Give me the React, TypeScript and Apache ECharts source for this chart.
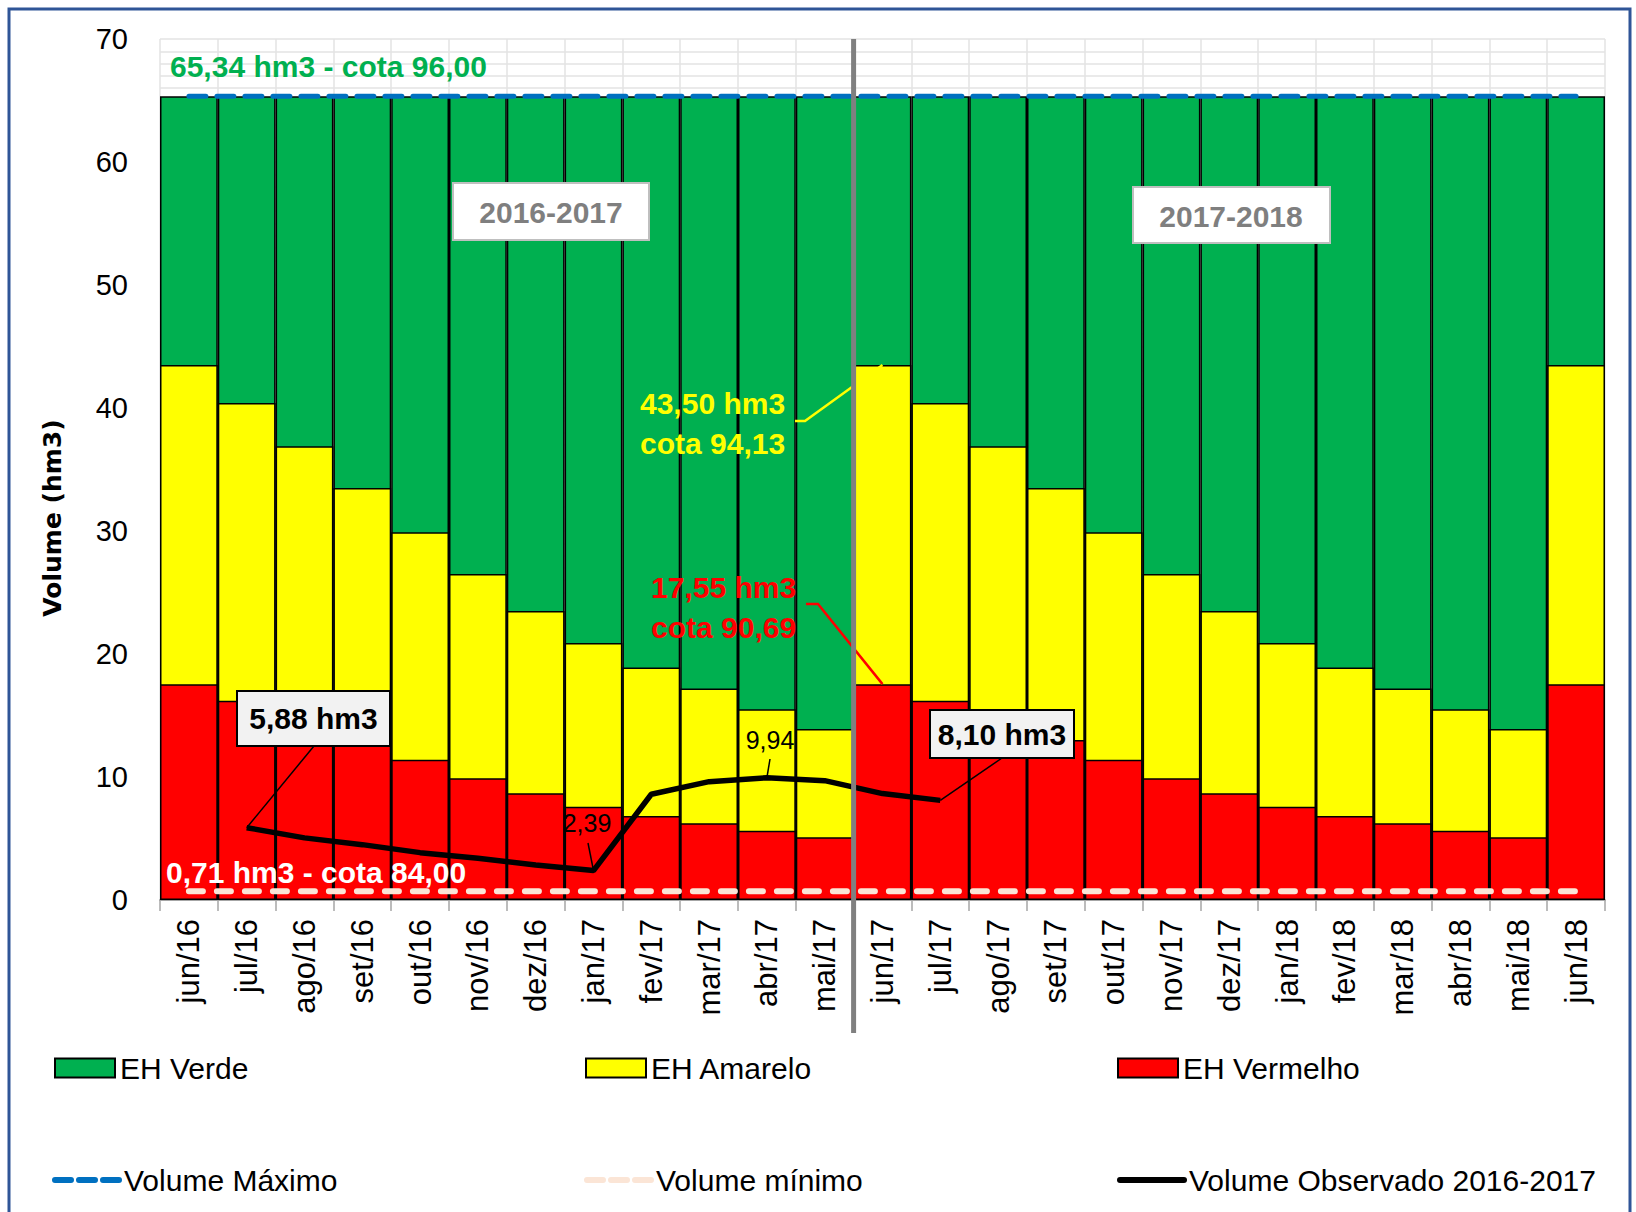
import React, { useEffect, useRef } from "react";
import * as echarts from "echarts";

const categories = [
  "jun/16", "jul/16", "ago/16", "set/16", "out/16", "nov/16", "dez/16", "jan/17",
  "fev/17", "mar/17", "abr/17", "mai/17", "jun/17", "jul/17", "ago/17", "set/17",
  "out/17", "nov/17", "dez/17", "jan/18", "fev/18", "mar/18", "abr/18", "mai/18", "jun/18",
];

// Upper limit of each band (hm3)
const verdeTop = [
  65.34, 65.34, 65.34, 65.34, 65.34, 65.34, 65.34, 65.34, 65.34, 65.34, 65.34, 65.34,
  65.34, 65.34, 65.34, 65.34, 65.34, 65.34, 65.34, 65.34, 65.34, 65.34, 65.34, 65.34, 65.34,
];
const amareloTop = [
  43.5, 40.4, 36.9, 33.5, 29.9, 26.5, 23.5, 20.9, 18.9, 17.2, 15.5, 13.9,
  43.5, 40.4, 36.9, 33.5, 29.9, 26.5, 23.5, 20.9, 18.9, 17.2, 15.5, 13.9, 43.5,
];
const vermelhoTop = [
  17.55, 16.2, 14.6, 13.0, 11.4, 9.9, 8.67, 7.58, 6.83, 6.23, 5.64, 5.1,
  17.55, 16.2, 14.6, 13.0, 11.4, 9.9, 8.67, 7.58, 6.83, 6.23, 5.64, 5.1, 17.55,
];
const volumeMaximo = [
  65.34, 65.34, 65.34, 65.34, 65.34, 65.34, 65.34, 65.34, 65.34, 65.34, 65.34, 65.34,
  65.34, 65.34, 65.34, 65.34, 65.34, 65.34, 65.34, 65.34, 65.34, 65.34, 65.34, 65.34, 65.34,
];
const volumeMinimo = [
  0.71, 0.71, 0.71, 0.71, 0.71, 0.71, 0.71, 0.71, 0.71, 0.71, 0.71, 0.71,
  0.71, 0.71, 0.71, 0.71, 0.71, 0.71, 0.71, 0.71, 0.71, 0.71, 0.71, 0.71, 0.71,
];
const volumeObservado = [
  null, 5.88, 5.05, 4.5, 3.85, 3.4, 2.85, 2.39, 8.6, 9.62, 9.94, 9.7,
  8.65, 8.1, null, null, null, null, null, null, null, null, null, null, null,
];

const yMin = 0;
const yMax = 70;
const yInterval = 10;

const FONT = '"Liberation Sans", Arial, sans-serif';

export default function App() {
  const ref = useRef<HTMLDivElement>(null);

  useEffect(() => {
    if (!ref.current) return;
    const chart = echarts.init(ref.current, null, { renderer: "svg" });

    const barBase = {
      type: "bar",
      barGap: "-100%",
      barCategoryGap: "0%",
      z: 2,
    };

    const legendBase = {
      orient: "horizontal",
      padding: 0,
      itemGap: 0,
      textStyle: { fontFamily: FONT, fontSize: 30, color: "#000" },
    };

    chart.setOption({
      animation: false,
      backgroundColor: "#fff",
      grid: { left: 160, right: 31, top: 39, bottom: 312, containLabel: false },
      xAxis: {
        type: "category",
        data: categories,
        boundaryGap: true,
        axisLine: { show: true, lineStyle: { color: "#A6A6A6", width: 2 } },
        axisTick: { show: true, length: 11, lineStyle: { color: "#A6A6A6", width: 1.5 } },
        axisLabel: {
          rotate: 90,
          margin: 19,
          fontFamily: FONT,
          fontSize: 31,
          color: "#000",
          interval: 0,
        },
        splitLine: { show: true, lineStyle: { color: "#E3E3E3", width: 1.5 } },
      },
      yAxis: {
        type: "value",
        min: yMin,
        max: yMax,
        interval: yInterval,
        axisLine: { show: false },
        axisTick: { show: false },
        axisLabel: { margin: 32, fontFamily: FONT, fontSize: 29, color: "#000" },
        splitLine: { show: true, lineStyle: { color: "#E3E3E3", width: 1.5 } },
        minorTick: { show: false, splitNumber: 10 },
        minorSplitLine: { show: true, lineStyle: { color: "#E3E3E3", width: 1.5 } },
      },
      legend: [
        { ...legendBase, left: 54, top: 1053, itemWidth: 60, itemHeight: 19, icon: "rect", data: ["EH Verde"] },
        { ...legendBase, left: 585, top: 1053, itemWidth: 60, itemHeight: 19, icon: "rect", data: ["EH Amarelo"] },
        { ...legendBase, left: 1117, top: 1053, itemWidth: 60, itemHeight: 19, icon: "rect", data: ["EH Vermelho"] },
        {
          ...legendBase, left: 52, top: 1165, itemWidth: 64, itemHeight: 22, data: ["Volume Máximo"],
          itemStyle: { opacity: 0 },
          lineStyle: { color: "#0070C0", width: 6, type: [16, 8], cap: "round" },
        },
        {
          ...legendBase, left: 584, top: 1165, itemWidth: 64, itemHeight: 22, data: ["Volume mínimo"],
          itemStyle: { opacity: 0 },
          lineStyle: { color: "#FBE5D6", width: 6, type: [16, 8], cap: "round" },
        },
        {
          ...legendBase, left: 1117, top: 1165, itemWidth: 64, itemHeight: 22, data: ["Volume Observado 2016-2017"],
          itemStyle: { opacity: 0 },
          lineStyle: { color: "#000", width: 6, type: "solid", cap: "round" },
        },
      ],
      series: [
        {
          ...barBase,
          name: "EH Verde",
          data: verdeTop,
          itemStyle: { color: "#00B050", borderColor: "#000", borderWidth: 1.5 },
        },
        {
          ...barBase,
          name: "EH Amarelo",
          data: amareloTop,
          itemStyle: { color: "#FFFF00", borderColor: "#000", borderWidth: 1.5 },
        },
        {
          ...barBase,
          name: "EH Vermelho",
          data: vermelhoTop,
          itemStyle: { color: "#FF0000", borderColor: "#000", borderWidth: 1.5 },
        },
        {
          type: "line",
          name: "Volume Máximo",
          data: volumeMaximo,
          symbol: "none",
          z: 5,
          itemStyle: { color: "#0070C0" },
          lineStyle: { color: "#0070C0", width: 5, type: [17, 11], cap: "round" },
        },
        {
          type: "line",
          name: "Volume mínimo",
          data: volumeMinimo,
          symbol: "none",
          z: 5,
          itemStyle: { color: "#FBE5D6" },
          lineStyle: { color: "#FBE5D6", width: 6, type: [14, 14], cap: "round" },
        },
        {
          type: "line",
          name: "Volume Observado 2016-2017",
          data: volumeObservado,
          symbol: "none",
          connectNulls: false,
          z: 6,
          itemStyle: { color: "#000" },
          lineStyle: { color: "#000", width: 5.5 },
        },
      ],
    });

    const P = (c: string, v: number) =>
      chart.convertToPixel({ gridIndex: 0 } as any, [c, v]) as unknown as number[];

    const xDiv = (P("mai/17", 0)[0] + P("jun/17", 0)[0]) / 2;
    const yTop = P("jun/16", yMax)[1];

    const txt = (
      text: string,
      x: number,
      y: number,
      fill: string,
      size: number,
      weight: string,
      align: string = "left"
    ) => ({
      type: "text",
      x,
      y,
      z: 110,
      style: {
        text,
        fill,
        fontFamily: FONT,
        fontSize: size,
        fontWeight: weight,
        textAlign: align,
        textVerticalAlign: "middle",
      },
    });

    const pYel = P("jun/17", amareloTop[12]);
    const pRed = P("jun/17", vermelhoTop[12]);
    const p588 = P("jul/16", 5.88);
    const p810 = P("jul/17", 8.1);
    const p239 = P("jan/17", 2.39);
    const p994 = P("abr/17", 9.94);

    chart.setOption({
      graphic: [
        // outer frame
        {
          type: "rect",
          z: 120,
          shape: { x: 9, y: 9, width: 1621, height: 1230 },
          style: { fill: "none", stroke: "#2F5597", lineWidth: 3 },
        },
        // y axis title
        {
          type: "text",
          x: 52,
          y: 518,
          rotation: Math.PI / 2,
          z: 110,
          style: {
            text: "Volume (hm3)",
            fill: "#000",
            fontFamily: '"DejaVu Sans", Verdana, sans-serif',
            fontWeight: "bold",
            fontSize: 25,
            textAlign: "center",
            textVerticalAlign: "middle",
          },
        },
        // divider between hydrological years
        {
          type: "line",
          z: 105,
          shape: { x1: xDiv, y1: yTop, x2: xDiv, y2: 1033 },
          style: { stroke: "#808080", lineWidth: 5 },
        },
        txt("65,34 hm3 - cota 96,00", 170, 66, "#00B050", 30, "bold"),
        txt("0,71 hm3 - cota 84,00", 166, 872, "#FFFFFF", 30, "bold"),
        // year boxes
        {
          type: "rect",
          z: 108,
          shape: { x: 453, y: 183, width: 196, height: 57 },
          style: { fill: "#FFFFFF", stroke: "#BFBFBF", lineWidth: 2 },
        },
        txt("2016-2017", 551, 212, "#7F7F7F", 30, "bold", "center"),
        {
          type: "rect",
          z: 108,
          shape: { x: 1133, y: 187, width: 197, height: 56 },
          style: { fill: "#FFFFFF", stroke: "#BFBFBF", lineWidth: 2 },
        },
        txt("2017-2018", 1231, 216, "#7F7F7F", 30, "bold", "center"),
        // yellow threshold annotation
        txt("43,50 hm3", 640, 403, "#FFFF00", 30, "bold"),
        txt("cota 94,13", 640, 443, "#FFFF00", 30, "bold"),
        {
          type: "polyline",
          z: 104,
          shape: { points: [[795, 421], [805, 421], [pYel[0], pYel[1]]] },
          style: { stroke: "#FFFF00", lineWidth: 2.5, fill: "none" },
        },
        // red threshold annotation
        txt("17,55 hm3", 651, 587, "#FF0000", 30, "bold"),
        txt("cota 90,69", 651, 627, "#FF0000", 30, "bold"),
        {
          type: "polyline",
          z: 104,
          shape: { points: [[806, 604], [818, 604], [pRed[0], pRed[1]]] },
          style: { stroke: "#FF0000", lineWidth: 2.5, fill: "none" },
        },
        // 5,88 callout
        {
          type: "line",
          z: 107,
          shape: { x1: 314, y1: 746, x2: p588[0], y2: p588[1] },
          style: { stroke: "#000", lineWidth: 1.5 },
        },
        {
          type: "rect",
          z: 108,
          shape: { x: 237, y: 691, width: 153, height: 55 },
          style: { fill: "#F2F2F2", stroke: "#000", lineWidth: 2 },
        },
        txt("5,88 hm3", 313.5, 718.5, "#000", 30, "bold", "center"),
        // 8,10 callout
        {
          type: "line",
          z: 107,
          shape: { x1: 1002, y1: 758, x2: p810[0], y2: p810[1] },
          style: { stroke: "#000", lineWidth: 1.5 },
        },
        {
          type: "rect",
          z: 108,
          shape: { x: 930, y: 710, width: 144, height: 48 },
          style: { fill: "#F2F2F2", stroke: "#000", lineWidth: 2 },
        },
        txt("8,10 hm3", 1002, 734, "#000", 30, "bold", "center"),
        // small value labels
        txt("2,39", 587, 823, "#000", 25, "normal", "center"),
        {
          type: "line",
          z: 107,
          shape: { x1: 588, y1: 843, x2: p239[0], y2: p239[1] },
          style: { stroke: "#000", lineWidth: 1.5 },
        },
        txt("9,94", 770, 740, "#000", 25, "normal", "center"),
        {
          type: "line",
          z: 107,
          shape: { x1: 770, y1: 759, x2: p994[0], y2: p994[1] },
          style: { stroke: "#000", lineWidth: 1.5 },
        },
      ],
    });

    return () => chart.dispose();
  }, []);

  return (
    <div
      ref={ref}
      style={{ position: "fixed", left: 0, top: 0, width: 1636, height: 1212, background: "#fff" }}
    />
  );
}
